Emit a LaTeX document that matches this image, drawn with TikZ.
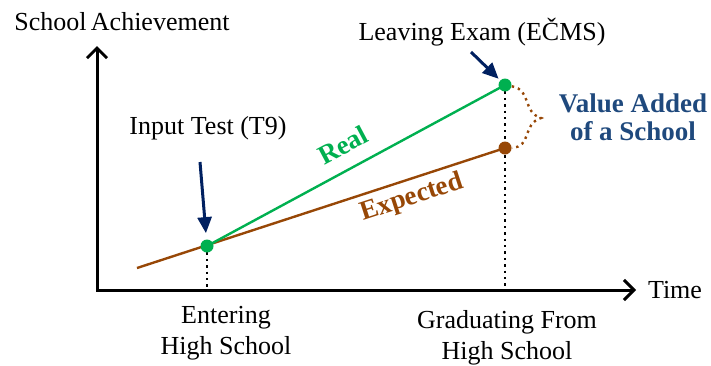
\documentclass[tikz,border=0pt]{standalone}
\usepackage{fontspec}
\setmainfont{Liberation Serif}
\usetikzlibrary{arrows.meta}

\definecolor{realgreen}{RGB}{0,176,80}
\definecolor{expbrown}{RGB}{151,71,6}
\definecolor{navy}{RGB}{0,32,96}
\definecolor{valueblue}{RGB}{31,73,125}

\begin{document}
\begin{tikzpicture}[x=0.5pt, y=-0.5pt,
  lbl/.style = {font=\fontsize{13}{15.5}\selectfont, align=center, inner sep=0pt},
  tag/.style = {font=\bfseries\fontsize{13.5}{14}\selectfont, inner sep=0pt},
  dot/.style = {circle, inner sep=0pt, minimum size=6.5pt},
  axis/.style = {line width=1.5pt, {Straight Barb[length=5pt,width=10pt]}-{Straight Barb[length=5pt,width=10pt]}},
  pointer/.style = {navy, line width=1.5pt, -{Triangle[length=8pt,width=7pt]}},
  drop/.style = {dotted, line width=1.2pt}]
\useasboundingbox (0,0) rectangle (711,365);

% axes
\coordinate (o) at (97,290);
\coordinate (ytop) at (97,46);
\coordinate (xend) at (636,290);
\draw[axis] (ytop) -- (o) -- (xend);

% points on the lines
\coordinate (start) at (137,268);
\coordinate (in) at (207,246);
\coordinate (out) at (505,85);
\coordinate (expd) at (505,148);
\coordinate (inbase) at (207,290);
\coordinate (outbase) at (505,290);

\draw[drop] (in) -- (inbase);
\draw[drop] (out) -- (outbase);
\draw[expbrown, line width=1.2pt] (start) -- (expd);
\draw[realgreen, line width=1.2pt] (in) -- (out);

\node[dot, fill=realgreen] (t9) at (in) {};
\node[dot, fill=realgreen] (exam) at (out) {};
\node[dot, fill=expbrown] (exp) at (expd) {};

% value added brace
\draw[expbrown, dotted, line width=1.2pt] (exam) .. controls (532,90) and (522,112) .. (541,118)
  .. controls (522,124) and (532,147) .. (exp);

% labels
\node[lbl, anchor=west] (yaxis) at (14,22) {School\,Achievement};
\node[lbl] (time) at (675,290) {Time};
\node[lbl] (t9lbl) at (208,128) {Input Test (T9)};
\node[lbl] (examlbl) at (482,32) {Leaving Exam (EČMS)};
\node[lbl] (enter) at (226,333) {Entering\\High School};
\node[lbl] (grad) at (507,338) {Graduating From\\High School};
\node[tag, realgreen, rotate=28] (real) at (343,145) {Real};
\node[tag, expbrown, rotate=18] (expected) at (412,198) {Expected};
\node[tag, valueblue, align=center] (value) at (633,117) {Value Added\\of a School};

% arrows to the test points
\coordinate (t9tail) at (200,162);
\coordinate (examtail) at (471,52);
\draw[pointer, shorten >=3pt] (t9tail) -- (t9);
\draw[pointer, shorten >=1pt] (examtail) -- (exam);
\end{tikzpicture}
\end{document}
